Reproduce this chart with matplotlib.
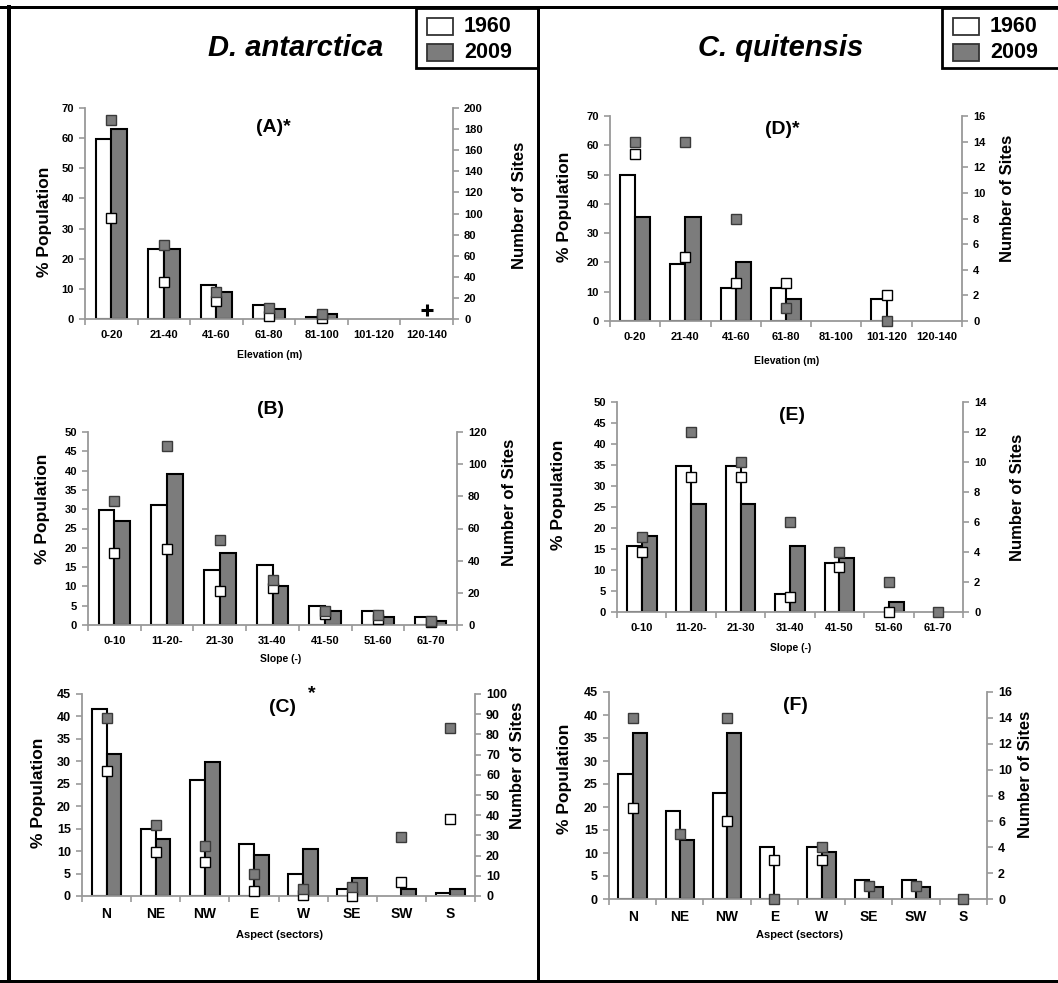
import numpy as np
import matplotlib
matplotlib.use('Agg')
import matplotlib.pyplot as plt
from matplotlib.lines import Line2D
from matplotlib.patches import Rectangle
from matplotlib import font_manager

nan = np.nan

# categories
elev_cats = ['0-20', '21-40', '41-60', '61-80', '81-100', '101-120', '120-140']
slope_cats = ['0-10', '11-20-', '21-30', '31-40', '41-50', '51-60', '61-70']
aspect_cats = ['N', 'NE', 'NW', 'E', 'W', 'SE', 'SW', 'S']

# D. antarctica - elevation (A)
a_pct_1960 = [59.8, 23.1, 11.2, 4.8, 0.7, 0, 0]
a_pct_2009 = [63.0, 23.3, 9.0, 3.4, 1.7, 0, 0]
a_sites_1960 = [96, 35, 17, 3, 0.5, nan, nan]
a_sites_2009 = [189, 70, 26, 10, 4.5, nan, nan]
a_plus = [nan, nan, nan, nan, nan, nan, 8.5]

# D. antarctica - slope (B)
b_pct_1960 = [29.9, 31.2, 14.2, 15.5, 5.0, 3.5, 2.0]
b_pct_2009 = [26.9, 39.0, 18.7, 10.2, 3.5, 2.0, 1.0]
b_sites_1960 = [45, 47, 21, 23, 7, 4, 2]
b_sites_2009 = [77, 111, 53, 28, 9, 6, 2.5]

# D. antarctica - aspect (C)
c_pct_1960 = [41.7, 15.0, 25.9, 11.5, 4.9, 1.6, 0, 0.7]
c_pct_2009 = [31.7, 12.7, 29.8, 9.1, 10.4, 4.1, 1.5, 1.5]
c_sites_1960 = [62, 22, 17, 2.5, 0.7, 0, 7, 38]
c_sites_2009 = [88, 35, 25, 11, 3.6, 4.5, 29, 83]

# C. quitensis - elevation (D)
d_pct_1960 = [49.8, 19.4, 11.3, 11.3, 0, 7.6, 0]
d_pct_2009 = [35.6, 35.6, 20.2, 7.6, 0, 0, 0]
d_sites_1960 = [13, 5, 3, 3, nan, 2, nan]
d_sites_2009 = [14, 14, 8, 1, nan, 0, nan]

# C. quitensis - slope (E)
e_pct_1960 = [15.6, 34.8, 34.8, 4.2, 11.7, 0, 0]
e_pct_2009 = [18.0, 25.8, 25.8, 15.6, 12.9, 2.5, 0]
e_sites_1960 = [4, 9, 9, 1, 3, 0, nan]
e_sites_2009 = [5, 12, 10, 6, 4, 2, 0]

# C. quitensis - aspect (F)
f_pct_1960 = [27.2, 19.2, 23.1, 11.4, 11.4, 4.2, 4.2, 0]
f_pct_2009 = [36.0, 12.9, 36.0, 0, 10.3, 2.7, 2.7, 0]
f_sites_1960 = [7, nan, 6, 3, 3, nan, nan, nan]
f_sites_2009 = [14, 5, 14, 0, 4, 1, 1, 0]

W, H = 1058, 983
GRAY = '#7c7c7c'
AXC = '#999999'

plt.rcParams['font.family'] = ['Liberation Sans', 'DejaVu Sans']
plt.rcParams['font.weight'] = 'bold'

# narrow face for the species names if it is installed
names = {f.name for f in font_manager.fontManager.ttflist}
if 'Liberation Sans Narrow' in names:
    title_family = ['Liberation Sans Narrow', 'Liberation Sans']
    title_size = 24
else:
    title_family = ['Liberation Sans', 'DejaVu Sans']
    title_size = 21

fig = plt.figure(figsize=(W / 100, H / 100), dpi=100)


def fx(x):
    return x / W


def fy(y):
    return 1 - y / H


def panel(box, cats, p60, p09, s60, s09, ymax, ystep, rmax, rstep, fs=8, xfs=8):
    l, t, r, b = box
    ax = fig.add_axes([fx(l), fy(b), (r - l) / W, (b - t) / H])
    x = np.arange(len(cats))
    bw = 0.3
    p60 = np.array(p60, float)
    p09 = np.array(p09, float)
    m1 = p60 > 0
    m2 = p09 > 0
    ax.bar(x[m1] - bw / 2, p60[m1], bw, color='white', edgecolor='black', lw=1.5, zorder=2)
    ax.bar(x[m2] + bw / 2, p09[m2], bw, color=GRAY, edgecolor='black', lw=1.5, zorder=2)
    ax.set_xlim(-0.5, len(cats) - 0.5)
    ax.set_ylim(0, ymax)
    ax.set_yticks(np.arange(0, ymax + 0.01, ystep))
    ax.set_xticks(np.arange(len(cats) + 1) - 0.5)
    ax.set_xticklabels([])
    ax.set_xticks(x, minor=True)
    ax.set_xticklabels(cats, minor=True, fontsize=xfs, fontweight='bold')
    ax.tick_params(axis='x', which='minor', length=0, pad=8)
    ax.tick_params(axis='x', which='major', length=4, color=AXC, width=1.2)
    ax.tick_params(axis='y', length=4, color=AXC, width=1.2, labelsize=fs, pad=4)
    for s in ['top', 'right']:
        ax.spines[s].set_visible(False)
    for s in ['left', 'bottom']:
        ax.spines[s].set_color(AXC)
        ax.spines[s].set_linewidth(1.3)

    ax2 = ax.twinx()
    ax2.set_ylim(0, rmax)
    ax2.set_yticks(np.arange(0, rmax + 0.01, rstep))
    ax2.tick_params(axis='y', length=4, color=AXC, width=1.2, labelsize=fs, pad=4)
    for s in ['top', 'left', 'bottom']:
        ax2.spines[s].set_visible(False)
    ax2.spines['right'].set_color(AXC)
    ax2.spines['right'].set_linewidth(1.3)
    ax2.plot(x, s60, 's', mfc='white', mec='black', ms=7, mew=1.0, ls='none',
             clip_on=False, zorder=3)
    ax2.plot(x, s09, 's', mfc=GRAY, mec='#3a3a3a', ms=7, mew=1.0, ls='none',
             clip_on=False, zorder=4)
    for lab in ax.get_yticklabels() + ax2.get_yticklabels():
        lab.set_fontweight('bold')
    return ax, ax2


def label(x, y, s, size, rot=0, **kw):
    fig.text(fx(x), fy(y), s, fontsize=size, fontweight='bold', rotation=rot,
             ha='center', va='center', **kw)


# panel A
axA, axA2 = panel((85, 108, 453, 319), elev_cats, a_pct_1960, a_pct_2009,
                  a_sites_1960, a_sites_2009, 70, 10, 200, 20)
axA2.plot(np.arange(len(elev_cats)), a_plus, '+', color='black', ms=8, mew=2.2, ls='none')
# panel B
panel((88, 432, 457, 625), slope_cats, b_pct_1960, b_pct_2009,
      b_sites_1960, b_sites_2009, 50, 5, 120, 20)
# panel C
panel((82, 694, 475, 896), aspect_cats, c_pct_1960, c_pct_2009,
      c_sites_1960, c_sites_2009, 45, 5, 100, 10, fs=9, xfs=10)
# panel D
panel((610, 116, 962, 321), elev_cats, d_pct_1960, d_pct_2009,
      d_sites_1960, d_sites_2009, 70, 10, 16, 2)
# panel E
panel((617, 402, 963, 612), slope_cats, e_pct_1960, e_pct_2009,
      e_sites_1960, e_sites_2009, 50, 5, 14, 2)
# panel F
panel((609, 692, 987, 899), aspect_cats, f_pct_1960, f_pct_2009,
      f_sites_1960, f_sites_2009, 45, 5, 16, 2, fs=9, xfs=10)

# panel titles
label(273, 128, '(A)*', 14)
label(270, 410, '(B)', 14)
label(283, 707, '(C)', 14)
label(312, 694, '*', 14)
label(782, 130, '(D)*', 14)
label(792, 415, '(E)', 14)
label(795, 705, '(F)', 14)

# axis titles
label(270, 355, 'Elevation (m)', 7.5)
label(787, 361, 'Elevation (m)', 7.5)
label(281, 659, 'Slope (-)', 7.5)
label(791, 648, 'Slope (-)', 7.5)
label(280, 935, 'Aspect (sectors)', 8)
label(799, 935, 'Aspect (sectors)', 8)

for x, y in [(45, 222), (43, 509), (38, 793), (565, 207), (558, 495), (564, 779)]:
    label(x, y, '% Population', 12.5, rot=90)
for x, y in [(520, 205), (510, 502), (517, 765), (1008, 198), (1017, 497), (1025, 774)]:
    label(x, y, 'Number of Sites', 12, rot=90)

# species names
label(296, 48, 'D. antarctica', title_size, style='italic', family=title_family)
label(781, 48, 'C. quitensis', title_size, style='italic', family=title_family)

# legends
for bx in [416, 942]:
    fig.add_artist(Rectangle((fx(bx), fy(68)), (1060 - bx if bx > 900 else 538 - bx) / W, 60 / H,
                             transform=fig.transFigure, fc='white', ec='black', lw=2))
    fig.add_artist(Rectangle((fx(bx + 11), fy(35)), 26 / W, 17 / H, transform=fig.transFigure,
                             fc='white', ec='#333333', lw=1.3))
    fig.add_artist(Rectangle((fx(bx + 11), fy(61)), 26 / W, 17 / H, transform=fig.transFigure,
                             fc=GRAY, ec='#333333', lw=1.3))
    fig.text(fx(bx + 48), fy(26), '1960', fontsize=15.5, fontweight='bold', va='center')
    fig.text(fx(bx + 48), fy(53), '2009', fontsize=15.5, fontweight='bold', va='center')

# frame lines
for xs, ys, lw in [([0, W], [7, 7], 3), ([8.5, 8.5], [7, 981], 4),
                   ([0, W], [981, 981], 3), ([538, 538], [7, 981], 3)]:
    fig.add_artist(Line2D([fx(v) for v in xs], [fy(v) for v in ys], color='black', lw=lw * 0.72,
                          transform=fig.transFigure))

fig.savefig('out.png', dpi=100)
